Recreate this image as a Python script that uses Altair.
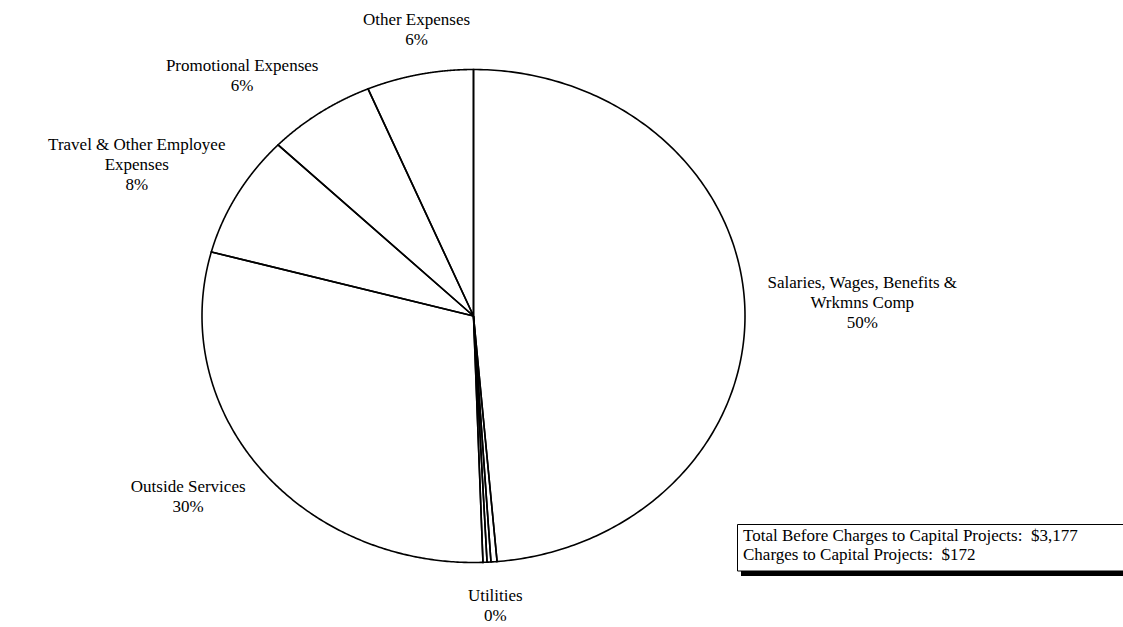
import altair as alt
import pandas as pd

# ---- data (clockwise from 12 o'clock) ----
categories = [
    "Salaries, Wages, Benefits &\nWrkmns Comp",
    "Utilities",
    "Unlabeled item 1",
    "Unlabeled item 2",
    "Outside Services",
    "Travel & Other Employee\nExpenses",
    "Promotional Expenses",
    "Other Expenses",
]
shares = [48.62, 0.36, 0.23, 0.24, 29.74, 8.03, 6.44, 6.35]
pct_labels = ["50%", "0%", "", "", "30%", "8%", "6%", "6%"]
note_lines = [
    "Total Before Charges to Capital Projects:\u00a0 $3,177",
    "Charges to Capital Projects:\u00a0 $172",
]

df = pd.DataFrame({
    "slice": list(range(len(categories))),
    "category": categories,
    "share": shares,
    "pct": pct_labels,
})

FONT = "Liberation Serif"
N = 240
X_RANGE = [202, 745]
Y_RANGE = [562.5, 69.5]
RXP = (X_RANGE[1] - X_RANGE[0]) / 2
RYP = (Y_RANGE[0] - Y_RANGE[1]) / 2
LH = 20          # label line height
CHAR_W = 7.5     # approx. average glyph width at 17px
GAP = 1.06       # label anchor distance (relative to pie radius)

xs = alt.Scale(domain=[-1, 1], range=X_RANGE, nice=False, zero=False)
ys = alt.Scale(domain=[-1, 1], range=Y_RANGE, nice=False, zero=False)

base = (
    alt.Chart(df)
    .transform_window(cum="sum(share)", sort=[alt.SortField("slice")], frame=[None, 0])
    .transform_joinaggregate(total="sum(share)")
    .transform_calculate(
        a0="2*PI*(datum.cum - datum.share)/datum.total",
        a1="2*PI*datum.cum/datum.total",
    )
)

pie = (
    base.transform_calculate(k=f"sequence(-1, {N + 2})")
    .transform_flatten(["k"])
    .transform_calculate(
        t=f"datum.a0 + (datum.a1 - datum.a0) * clamp(datum.k, 0, {N}) / {N}",
        px=f"(datum.k < 0 || datum.k > {N}) ? 0 : sin(datum.t)",
        py=f"(datum.k < 0 || datum.k > {N}) ? 0 : cos(datum.t)",
    )
    .mark_line(color="black", strokeWidth=1.6)
    .encode(
        x=alt.X("px:Q", scale=xs, axis=None),
        y=alt.Y("py:Q", scale=ys, axis=None),
        detail="slice:N",
        order="k:Q",
    )
)

labels = (
    base.transform_filter("datum.pct != ''")
    .transform_calculate(
        m="(datum.a0 + datum.a1)/2",
        txt="datum.category + '\\n' + datum.pct",
    )
    .transform_calculate(
        s="sin(datum.m)",
        c="cos(datum.m)",
        nl="length(split(datum.txt, '\\n'))",
        w=f"{CHAR_W} * length(split(datum.category, '\\n')[0])",
    )
    .transform_calculate(
        offx="(datum.s < 0 ? -1 : 1) * datum.w / 2 * clamp((abs(datum.s) - 0.2) / 0.4, 0, 1)",
        h=f"datum.nl * {LH}",
    )
    .transform_calculate(
        lx=f"{GAP} * datum.s + datum.offx / {RXP}",
        ly=f"{GAP} * datum.c + datum.c * datum.h * 0.75 / {RYP} + (datum.nl - 1) * {LH} / 2 / {RYP}",
    )
    .mark_text(font=FONT, fontSize=17, lineHeight=LH, color="black",
               align="center", baseline="middle", lineBreak="\n")
    .encode(
        x=alt.X("lx:Q", scale=xs, axis=None),
        y=alt.Y("ly:Q", scale=ys, axis=None),
        text="txt:N",
    )
)

one = pd.DataFrame({"note": ["\n".join(note_lines)]})
shadow = alt.Chart(one).mark_rect(color="black").encode(
    x=alt.value(741), x2=alt.value(1140), y=alt.value(571), y2=alt.value(576)
)
box = alt.Chart(one).mark_rect(fill="white", stroke="black", strokeWidth=1).encode(
    x=alt.value(737.5), x2=alt.value(1140), y=alt.value(524.5), y2=alt.value(571)
)
note = alt.Chart(one).mark_text(
    font=FONT, fontSize=17, lineHeight=19, color="black", align="left",
    baseline="alphabetic", lineBreak="\n"
).encode(x=alt.value(743), y=alt.value(541), text="note:N")

chart = (
    alt.layer(pie, labels, shadow, box, note)
    .properties(width=1123, height=627, padding=0, autosize=alt.AutoSizeParams(type="none"),
                background="white")
    .configure_view(stroke=None)
)

chart.save("out.html", embed_options={"renderer": "svg", "actions": False})
